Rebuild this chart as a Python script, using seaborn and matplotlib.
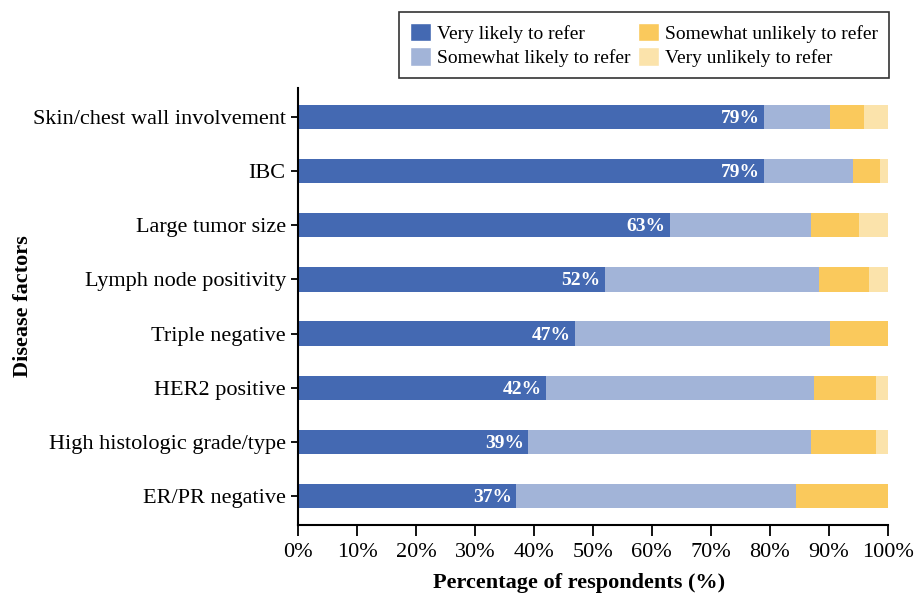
import numpy as np
import pandas as pd
import matplotlib.pyplot as plt
import seaborn as sns
from matplotlib.patches import Patch
from matplotlib.ticker import PercentFormatter

# Disease factors, top to bottom
factors = ['Skin/chest wall involvement', 'IBC', 'Large tumor size',
           'Lymph node positivity', 'Triple negative', 'HER2 positive',
           'High histologic grade/type', 'ER/PR negative']

# percentages
very_likely = [79, 79, 63, 52, 47, 42, 39, 37]
somewhat_likely = [11.3, 15.2, 24, 36.3, 43.3, 45.6, 48, 47.5]
somewhat_unlikely = [5.7, 4.6, 8.1, 8.5, 9.7, 10.4, 11, 15.5]
very_unlikely = [4.0, 1.2, 4.9, 3.2, 0, 2.0, 2.0, 0]

categories = ['Very likely to refer', 'Somewhat likely to refer',
              'Somewhat unlikely to refer', 'Very unlikely to refer']
colors = ['#4469b2', '#a2b4d8', '#fac95c', '#fbe3ab']

data = pd.DataFrame({'factor': factors,
                     categories[0]: very_likely,
                     categories[1]: somewhat_likely,
                     categories[2]: somewhat_unlikely,
                     categories[3]: very_unlikely})

sns.set_theme(style='ticks')
plt.rcParams['font.family'] = ['Liberation Serif', 'DejaVu Serif']
plt.rcParams['text.color'] = 'black'
plt.rcParams['axes.labelcolor'] = 'black'

fig = plt.figure(figsize=(9.15, 5.95), dpi=100)
ax = fig.add_axes([0.326, 0.118, 0.644, 0.734])

# stacked bars: draw cumulative totals from the largest down
cum = data[categories].cumsum(axis=1)
for cat, col in reversed(list(zip(categories, colors))):
    sns.barplot(x=cum[cat], y=data['factor'], color=col, orient='h',
                width=0.45, ax=ax, saturation=1, linewidth=0)

for i, v in enumerate(very_likely):
    ax.text(v - 0.7, i + 0.03, f'{v}%', color='white', fontweight='bold',
            fontsize=14, ha='right', va='center')

ax.set_xlim(0, 100)
ax.set_ylim(7.53, -0.53)
ax.xaxis.set_major_locator(plt.MultipleLocator(10))
ax.xaxis.set_major_formatter(PercentFormatter(decimals=0))
ax.tick_params(axis='both', labelsize=16, width=1.3, colors='black')
ax.tick_params(axis='x', length=8, pad=5)
ax.tick_params(axis='y', length=5, pad=4)
for s in ['left', 'bottom']:
    ax.spines[s].set_linewidth(1.5)
    ax.spines[s].set_color('black')
sns.despine(ax=ax)
ax.set_xlabel('Percentage of respondents (%)', fontsize=16, fontweight='bold')
ax.xaxis.set_label_coords(0.477, -0.11)
ax.set_ylabel('Disease factors', fontsize=16, fontweight='bold', labelpad=0)

handles = [Patch(facecolor=c, label=l) for c, l in zip(colors, categories)]
leg = fig.legend(handles=handles, ncol=2, loc='upper right',
                 bbox_to_anchor=(889 / 915, 1 - 12 / 595), borderaxespad=0,
                 fontsize=14, frameon=True, fancybox=False, edgecolor='black',
                 handlelength=1.1, handleheight=1.1, handletextpad=0.3,
                 columnspacing=0.4, borderpad=0.55, labelspacing=0.25)
leg.get_frame().set_linewidth(1.2)

fig.savefig('out.png', dpi=100)
